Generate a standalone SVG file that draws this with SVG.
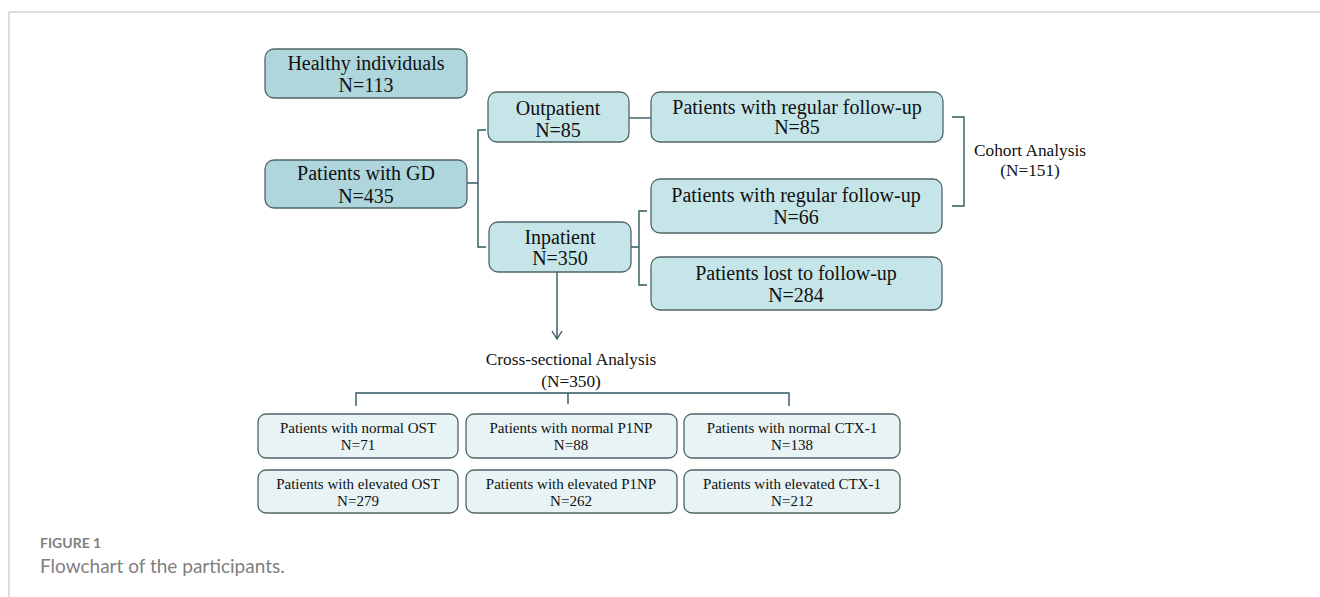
<svg xmlns="http://www.w3.org/2000/svg" width="1320" height="597" viewBox="0 0 1320 597">
<style>
.t{font-family:"Liberation Serif","Times New Roman",serif;fill:#111;text-anchor:middle}
.f20{font-size:20px}
.f18{font-size:17.3px}
.f15{font-size:15px}
.b1{fill:#aed6dc;stroke:#4f6466;stroke-width:1.3}
.b2{fill:#c6e5e8;stroke:#4f6466;stroke-width:1.3}
.b3{fill:#e7f3f5;stroke:#4f6466;stroke-width:1.3}
.c{fill:none;stroke:#2f5a60;stroke-width:1.4}
.cap{font-family:"Lato","Open Sans","Noto Sans",sans-serif;fill:#808080}
</style>
<defs>
<marker id="ah" viewBox="0 0 12 12" refX="10" refY="6" markerWidth="12" markerHeight="12" markerUnits="userSpaceOnUse" orient="auto">
<path d="M2,1 L10,6 L2,11" fill="none" stroke="#2f5a60" stroke-width="1.4"/>
</marker>
</defs>
<rect width="1320" height="597" fill="#fff"/>
<path d="M9,597 V12 H1320" fill="none" stroke="#bcbcbc" stroke-width="1"/>
<g id="connectors">
<path class="c" d="M467,183 H478 M486,130 H478 V247 H486"/>
<path class="c" d="M629,118 H651"/>
<path class="c" d="M631,247 H639 M647,211 H639 V285 H647"/>
<path class="c" d="M952,117 H964 V206 H952"/>
<path class="c" d="M557,272 V339" marker-end="url(#ah)"/>
<path class="c" d="M356,406 V393 H789 V406 M568,393 V404"/>
</g>
<g id="healthy">
<rect class="b1" x="265" y="49" width="202" height="49" rx="9"/>
<text class="t f20" x="366" y="70">Healthy individuals</text>
<text class="t f20" x="366" y="92">N=113</text>
</g>
<g id="gd">
<rect class="b1" x="265" y="160" width="202" height="48" rx="9"/>
<text class="t f20" x="366" y="180">Patients with GD</text>
<text class="t f20" x="366" y="203">N=435</text>
</g>
<g id="outpatient">
<rect class="b2" x="488" y="92" width="141" height="50" rx="9"/>
<text class="t f20" x="558" y="115">Outpatient</text>
<text class="t f20" x="558" y="137">N=85</text>
</g>
<g id="inpatient">
<rect class="b2" x="489" y="222" width="142" height="50" rx="9"/>
<text class="t f20" x="560" y="244">Inpatient</text>
<text class="t f20" x="560" y="265">N=350</text>
</g>
<g id="follow85">
<rect class="b2" x="651" y="92" width="292" height="50" rx="9"/>
<text class="t f20" x="797" y="114">Patients with regular follow-up</text>
<text class="t f20" x="797" y="134">N=85</text>
</g>
<g id="follow66">
<rect class="b2" x="651" y="179" width="291" height="54" rx="9"/>
<text class="t f20" x="796" y="202">Patients with regular follow-up</text>
<text class="t f20" x="796" y="224">N=66</text>
</g>
<g id="lost">
<rect class="b2" x="651" y="257" width="291" height="53" rx="9"/>
<text class="t f20" x="796" y="280">Patients lost to follow-up</text>
<text class="t f20" x="796" y="302">N=284</text>
</g>
<g id="cohort">
<text class="t f18" x="1030" y="156">Cohort Analysis</text>
<text class="t f18" x="1030" y="176">(N=151)</text>
</g>
<g id="cross">
<text class="t f18" x="571" y="365">Cross-sectional Analysis</text>
<text class="t f18" x="571" y="387">(N=350)</text>
</g>
<g id="normalOST">
<rect class="b3" x="258" y="414" width="200" height="44" rx="8"/>
<text class="t f15" x="358" y="433">Patients with normal OST</text>
<text class="t f15" x="358" y="450">N=71</text>
</g>
<g id="normalP1NP">
<rect class="b3" x="466" y="414" width="211" height="44" rx="8"/>
<text class="t f15" x="571" y="433">Patients with normal P1NP</text>
<text class="t f15" x="571" y="450">N=88</text>
</g>
<g id="normalCTX">
<rect class="b3" x="684" y="414" width="216" height="44" rx="8"/>
<text class="t f15" x="792" y="433">Patients with normal CTX-1</text>
<text class="t f15" x="792" y="450">N=138</text>
</g>
<g id="elevOST">
<rect class="b3" x="258" y="470" width="200" height="43" rx="8"/>
<text class="t f15" x="358" y="489">Patients with elevated OST</text>
<text class="t f15" x="358" y="506">N=279</text>
</g>
<g id="elevP1NP">
<rect class="b3" x="466" y="470" width="211" height="43" rx="8"/>
<text class="t f15" x="571" y="489">Patients with elevated P1NP</text>
<text class="t f15" x="571" y="506">N=262</text>
</g>
<g id="elevCTX">
<rect class="b3" x="684" y="470" width="216" height="43" rx="8"/>
<text class="t f15" x="792" y="489">Patients with elevated CTX-1</text>
<text class="t f15" x="792" y="506">N=212</text>
</g>
<g id="caption">
<text class="cap" x="40" y="548" font-size="14" font-weight="bold">FIGURE 1</text>
<text class="cap" x="40" y="573" font-size="19" fill="#777">Flowchart of the participants.</text>
</g>
</svg>
